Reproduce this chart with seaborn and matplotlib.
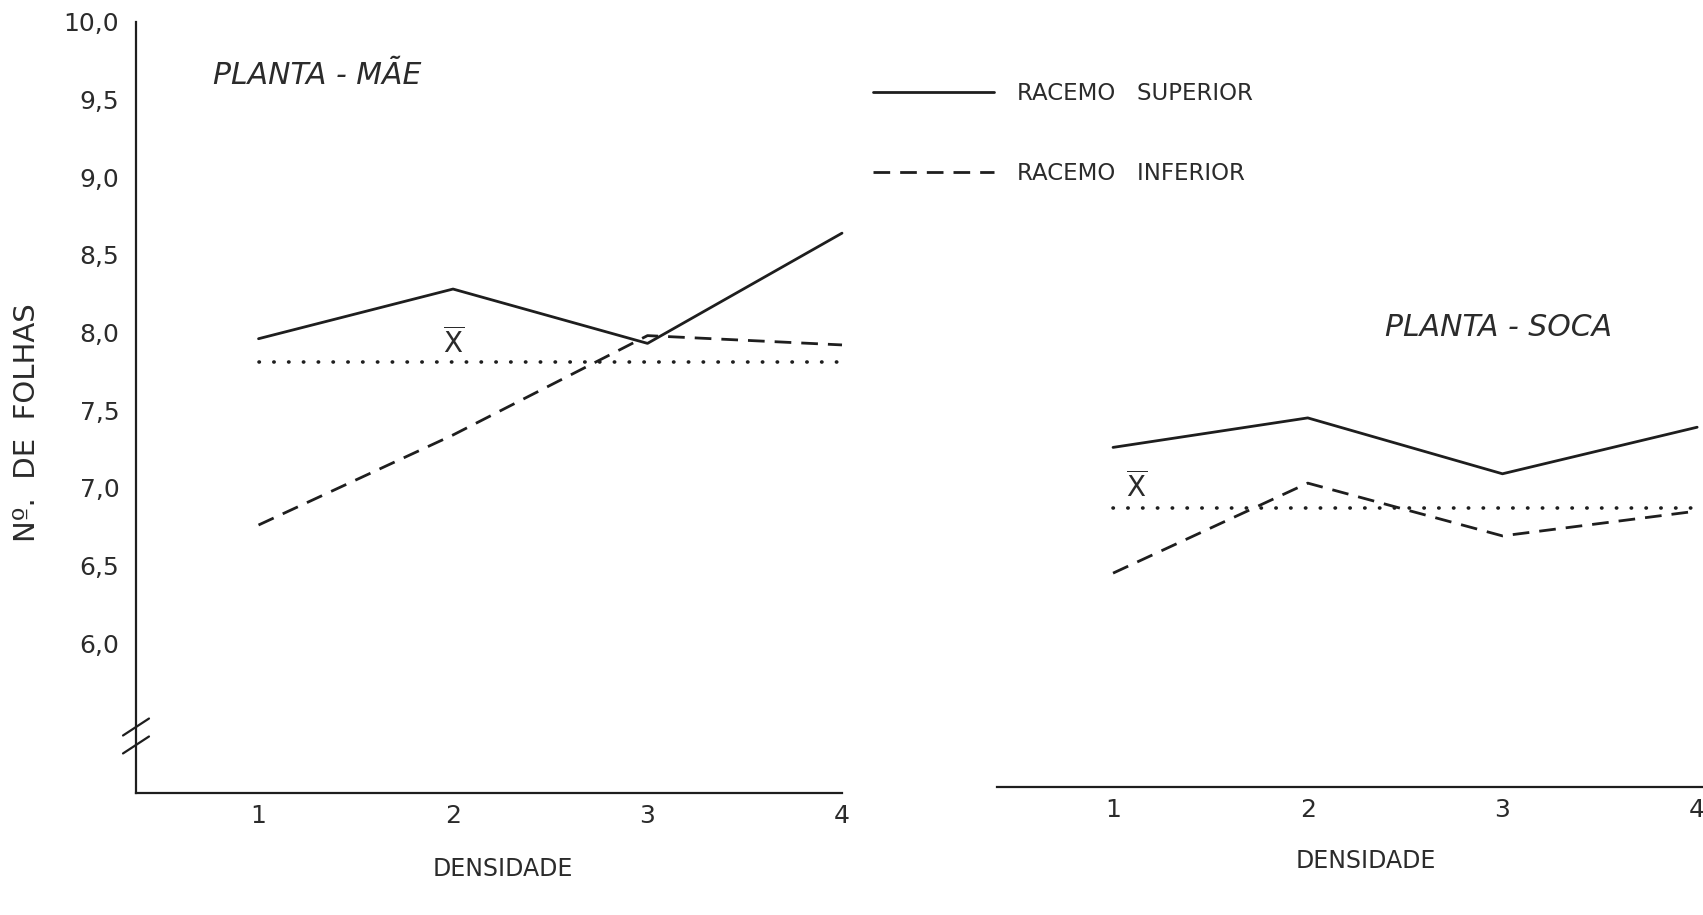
import numpy as np
import pandas as pd
import matplotlib
matplotlib.use("Agg")
import matplotlib.pyplot as plt
import seaborn as sns

# ---- data ----
densidade = [1, 2, 3, 4]
mae_superior = [7.96, 8.28, 7.93, 8.64]
mae_inferior = [6.76, 7.34, 7.98, 7.92]
mae_media = 7.81
soca_superior = [7.26, 7.45, 7.09, 7.39]
soca_inferior = [6.45, 7.03, 6.69, 6.85]
soca_media = 6.87

series_names = ["RACEMO   SUPERIOR", "RACEMO   INFERIOR"]
panel_titles = ["PLANTA - MÃE", "PLANTA - SOCA"]
y_ticks = [6.0, 6.5, 7.0, 7.5, 8.0, 8.5, 9.0, 9.5, 10.0]
y_tick_labels = ["6,0", "6,5", "7,0", "7,5", "8,0", "8,5", "9,0", "9,5", "10,0"]
x_label = "DENSIDADE"
y_label = "Nº.  DE  FOLHAS"
mean_label = r"$\overline{\mathrm{X}}$"

sns.set_style("white")
plt.rcParams["font.family"] = ["DejaVu Sans"]
plt.rcParams["mathtext.fontset"] = "dejavusans"

INK = "#1e1e1e"
TXT = "#2b2b2b"


def long_frame(sup, inf):
    return pd.DataFrame({
        "densidade": densidade * 2,
        "folhas": list(sup) + list(inf),
        "racemo": [series_names[0]] * len(sup) + [series_names[1]] * len(inf),
    })


fig = plt.figure(figsize=(17.03, 9.15), dpi=100)
W, H = 1703, 915
ax_l = fig.add_axes([136 / W, 1 - 793 / H, 706 / W, 771 / H])
ax_r = fig.add_axes([997 / W, 1 - 793 / H, 706 / W, 771 / H])

panels = [
    (ax_l, long_frame(mae_superior, mae_inferior), mae_media, (0.37, 4.0)),
    (ax_r, long_frame(soca_superior, soca_inferior), soca_media, (0.404, 4.03)),
]

for ax, df, media, xlim in panels:
    sns.lineplot(
        data=df, x="densidade", y="folhas", style="racemo",
        style_order=series_names,
        dashes={series_names[0]: "", series_names[1]: (6, 3.6)},
        color=INK, linewidth=2.0, legend=False, ax=ax,
    )
    # overall mean
    ax.plot(densidade, [media] * len(densidade), color=INK, linewidth=2.6,
            linestyle=(0, (0.1, 4.0)), dash_capstyle="round")
    ax.set_xlim(*xlim)
    ax.set_ylim(5.034, 10.0)
    ax.set_xticks(densidade)
    ax.set_xticklabels([str(d) for d in densidade])
    ax.tick_params(axis="x", direction="in", length=6, width=1.4, pad=8,
                   labelsize=18, colors=INK, labelcolor=TXT, top=False)
    ax.spines["top"].set_visible(False)
    ax.spines["right"].set_visible(False)
    ax.spines["bottom"].set_linewidth(1.6)
    ax.spines["bottom"].set_color(INK)
    ax.set_ylabel("")
    ax.set_facecolor("none")
    for ln in ax.lines:
        ln.set_clip_on(False)

# left panel: value axis
ax_l.set_yticks(y_ticks)
ax_l.set_yticklabels(y_tick_labels)
ax_l.tick_params(axis="y", direction="in", length=8, width=1.4, pad=12,
                 labelsize=18, colors=INK, labelcolor=TXT, right=False)
ax_l.spines["left"].set_linewidth(1.6)
ax_l.spines["left"].set_color(INK)
ax_l.set_ylabel(y_label, fontsize=21, color=TXT, va="center")
ax_l.yaxis.set_label_coords(-0.154, 0.481)

# axis break marks on the value axis
dx, dy = 0.0184, 0.011
for yb in (0.0856, 0.0623):
    ax_l.plot([-dx, dx], [yb - dy, yb + dy], transform=ax_l.transAxes,
              color=INK, linewidth=1.6, clip_on=False)

# right panel: baseline only
ax_r.spines["left"].set_visible(False)
ax_r.tick_params(axis="y", left=False, labelleft=False)
ax_r.spines["bottom"].set_position(("data", 5.073))

for ax, xc, yc in ((ax_l, 0.52, -0.099), (ax_r, 0.523, -0.088)):
    ax.set_xlabel(x_label, fontsize=17, color=TXT, va="center")
    ax.xaxis.set_label_coords(xc, yc)

# mean markers
ax_l.text(densidade[1], 7.93, mean_label, fontsize=20, color=TXT,
          ha="center", va="center")
ax_r.text(1.12, 7.0, mean_label, fontsize=20, color=TXT,
          ha="center", va="center")

# panel titles
fig.text(213 / W, 1 - 75 / H, panel_titles[0], fontsize=21.5, style="italic",
         color=TXT, ha="left", va="center")
fig.text(1385 / W, 1 - 328 / H, panel_titles[1], fontsize=21.5, style="italic",
         color=TXT, ha="left", va="center")

# legend shared by both panels
handles = ax_l.lines[:2]
fig.legend(handles, series_names, loc="upper left",
           bbox_to_anchor=(873 / W, 1 - 82 / H), bbox_transform=fig.transFigure,
           frameon=False, fontsize=16.5, labelcolor=TXT, handlelength=5.3,
           handletextpad=1.0, labelspacing=2.5, borderpad=0, borderaxespad=0)

fig.savefig("out.png", dpi=100, facecolor="white")
